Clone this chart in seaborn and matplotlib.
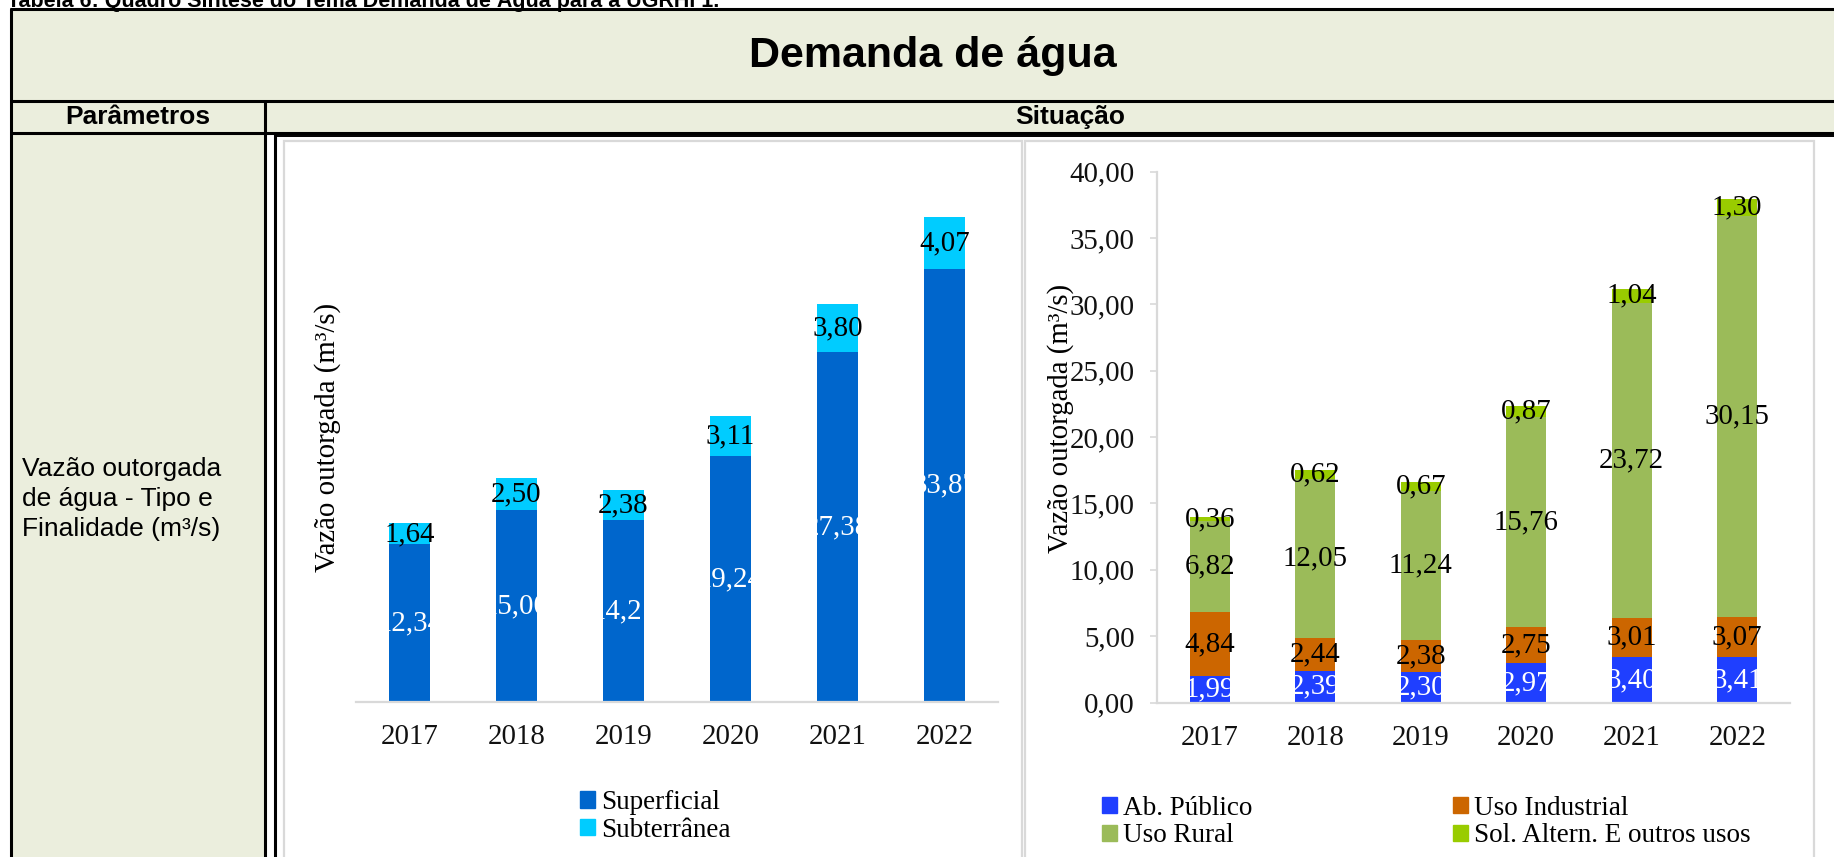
import matplotlib
matplotlib.use('Agg')
from matplotlib import pyplot as plt
from matplotlib.patches import Rectangle, Patch
import seaborn as sns
import pandas as pd


# ---------- DADOS ----------
anos = ['2017', '2018', '2019', '2020', '2021', '2022']

# vazão por tipo (origem)
superficial = [12.34, 15.00, 14.21, 19.24, 27.38, 33.87]
subterranea = [1.64, 2.50, 2.38, 3.11, 3.80, 4.07]

# vazão por finalidade
ab_publico = [1.99, 2.39, 2.30, 2.97, 3.40, 3.41]
uso_industrial = [4.84, 2.44, 2.38, 2.75, 3.01, 3.07]
uso_rural = [6.82, 12.05, 11.24, 15.76, 23.72, 30.15]
sol_altern = [0.36, 0.62, 0.67, 0.87, 1.04, 1.30]

ticks_y = [0, 5, 10, 15, 20, 25, 30, 35, 40]
rotulo_y = 'Vazão outorgada (m³/s)'


# ---------- ESTILO ----------
sns.set_style('white')
plt.rcParams['font.family'] = ['Liberation Serif', 'DejaVu Serif']
plt.rcParams['text.color'] = 'black'
FS = 20.8        # rótulos, ticks e título do eixo
FS_LEG = 19.5    # legendas
W, H = 1834, 857
BEGE = '#ebeedd'
CINZA = '#d9d9d9'

fig = plt.figure(figsize=(W / 100, H / 100), dpi=100)
fig.patch.set_facecolor('white')


def eixo_px(x0, y0, x1, y1):
    # cria eixo a partir de coordenadas em pixels (origem no topo)
    return fig.add_axes([x0 / W, 1 - y1 / H, (x1 - x0) / W, (y1 - y0) / H])


# ---------- TABELA (fundo) ----------
bg = eixo_px(0, 0, W, H)
bg.set_xlim(0, W)
bg.set_ylim(H, 0)
bg.axis('off')

bg.add_patch(Rectangle((10, 9), W, 124, facecolor=BEGE, edgecolor='none'))
bg.add_patch(Rectangle((10, 133), 255, H, facecolor=BEGE, edgecolor='none'))
bg.add_patch(Rectangle((284, 141), 738, 720, facecolor='white', edgecolor=CINZA, lw=1.6))
bg.add_patch(Rectangle((1025, 141), 789, 720, facecolor='white', edgecolor=CINZA, lw=1.6))

lw_t = 2.2
for y in [9, 101, 133]:
    bg.plot([10, W], [y, y], color='black', lw=lw_t, solid_capstyle='butt')
bg.plot([275, W], [135.5, 135.5], color='black', lw=1.4)
bg.plot([11, 11], [9, H], color='black', lw=lw_t)
bg.plot([265, 265], [101, H], color='black', lw=lw_t)
bg.plot([275, 275], [133, H], color='black', lw=lw_t)

sans = 'Liberation Sans'
# legenda da tabela: cortada no topo, como no original
bg.text(7, 6.5, 'Tabela 6: Quadro Síntese do Tema Demanda de Água para a UGRHI 1.',
        family=sans, fontsize=15.5, fontweight='bold', va='baseline', ha='left')
bg.text(933, 56, 'Demanda de água', family=sans, fontsize=31, fontweight='bold',
        ha='center', va='center')
bg.text(138, 117, 'Parâmetros', family=sans, fontsize=19, fontweight='bold',
        ha='center', va='center')
bg.text(1070, 117, 'Situação', family=sans, fontsize=19, fontweight='bold',
        ha='center', va='center')
bg.text(22, 499, 'Vazão outorgada\nde água - Tipo e\nFinalidade (m³/s)', family=sans,
        fontsize=19, ha='left', va='center', linespacing=1.3)


# ---------- GRÁFICOS ----------
def fmt(v):
    return f'{v:.2f}'.replace('.', ',')


def empilhado(ax, series, cores, cor_txt):
    df = pd.DataFrame(series, index=anos)
    acum = df.cumsum(axis=1)
    base = acum - df
    # desenha do topo para baixo para simular barras empilhadas
    for nome in reversed(df.columns):
        sns.barplot(x=anos, y=acum[nome].values, color=cores[nome], width=0.375,
                    saturation=1, errorbar=None, linewidth=0, ax=ax)
    for nome in df.columns:
        for i, ano in enumerate(anos):
            v = df.loc[ano, nome]
            ax.text(i, base.loc[ano, nome] + v / 2, fmt(v), ha='center', va='center',
                    fontsize=FS, color=cor_txt[nome], zorder=5)


# gráfico 1 - origem
ax1 = eixo_px(356, 191, 998, 702)
empilhado(ax1,
          {'Superficial': superficial, 'Subterrânea': subterranea},
          {'Superficial': '#0066cc', 'Subterrânea': '#00ccff'},
          {'Superficial': 'white', 'Subterrânea': 'black'})
ax1.set_xlim(-0.5, 5.5)
ax1.set_ylim(0, 40)
ax1.patch.set_visible(False)
for s in ['left', 'top', 'right']:
    ax1.spines[s].set_visible(False)
ax1.spines['bottom'].set_color(CINZA)
ax1.spines['bottom'].set_linewidth(1.6)
ax1.set_yticks([])
ax1.tick_params(axis='x', length=0, pad=16, labelsize=FS, labelcolor='#111111')
ax1.text(-0.0436, 0.5186, rotulo_y, transform=ax1.transAxes, rotation=90,
         ha='center', va='center', fontsize=FS)
fig.legend(handles=[Patch(color='#0066cc', label='Superficial'),
                    Patch(color='#00ccff', label='Subterrânea')],
           loc='center left', bbox_to_anchor=(580 / W, 1 - 816.5 / H),
           frameon=False, fontsize=FS_LEG, handlelength=0.55, handleheight=0.55,
           handletextpad=0.22, labelspacing=0.1, borderpad=0, borderaxespad=0)

# gráfico 2 - finalidade
ax2 = eixo_px(1157, 171.6, 1790, 702.6)
cores2 = {'Ab. Público': '#1f3fff', 'Uso Industrial': '#cc6600',
          'Uso Rural': '#9bbb59', 'Sol. Altern. E outros usos': '#99cc00'}
empilhado(ax2,
          {'Ab. Público': ab_publico, 'Uso Industrial': uso_industrial,
           'Uso Rural': uso_rural, 'Sol. Altern. E outros usos': sol_altern},
          cores2,
          {'Ab. Público': 'white', 'Uso Industrial': 'black',
           'Uso Rural': 'black', 'Sol. Altern. E outros usos': 'black'})
ax2.set_xlim(-0.5, 5.5)
ax2.set_ylim(0, 40)
ax2.patch.set_visible(False)
for s in ['top', 'right']:
    ax2.spines[s].set_visible(False)
for s in ['left', 'bottom']:
    ax2.spines[s].set_color(CINZA)
    ax2.spines[s].set_linewidth(1.6)
ax2.set_yticks(ticks_y)
ax2.set_yticklabels([fmt(t) for t in ticks_y])
ax2.tick_params(axis='x', length=0, pad=16, labelsize=FS, labelcolor='#111111')
ax2.tick_params(axis='y', length=5, width=1.2, color=CINZA, pad=11, labelsize=FS,
                labelcolor='#111111', left=True)
ax2.text(-0.153, 0.535, rotulo_y, transform=ax2.transAxes, rotation=90,
         ha='center', va='center', fontsize=FS)
ordem = ['Ab. Público', 'Uso Rural', 'Uso Industrial', 'Sol. Altern. E outros usos']
fig.legend(handles=[Patch(color=cores2[n], label=n) for n in ordem],
           loc='center left', bbox_to_anchor=(1102 / W, 1 - 822 / H), ncol=2,
           frameon=False, fontsize=FS_LEG, handlelength=0.55, handleheight=0.55,
           handletextpad=0.22, labelspacing=0.1, columnspacing=7.4,
           borderpad=0, borderaxespad=0)

fig.savefig('out.png', dpi=100)
